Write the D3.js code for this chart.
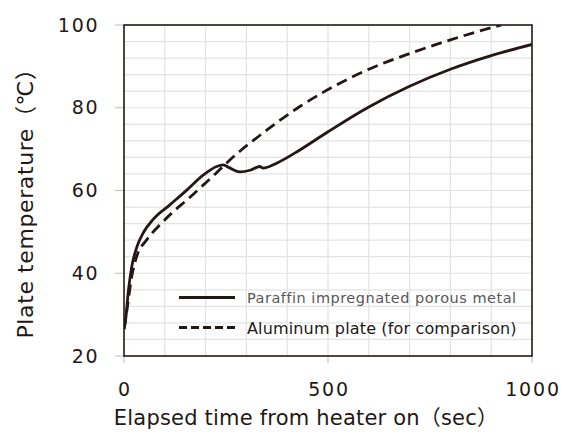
<!DOCTYPE html>
<html>
<head>
<meta charset="utf-8">
<script src="https://cdn.jsdelivr.net/npm/d3@7"></script>
<style>
  body { margin: 0; background: #fff; }
  svg text { font-family: "DejaVu Sans", "Noto Sans CJK JP", sans-serif; }
</style>
</head>
<body>
<svg id="chart" width="571" height="448"></svg>
<script>
// paraffin impregnated porous metal (solid)
var paraffinTime = [0, 3, 11, 19, 31, 48, 72, 113, 154, 194, 227, 243, 260, 284, 309, 333, 341, 374, 431, 500, 600, 700, 800, 900, 1000];
var paraffinTemp = [26.5, 28, 36, 41.6, 46.2, 49.9, 53.1, 56.6, 60.1, 63.7, 65.8, 66.2, 65.4, 64.5, 64.9, 65.8, 65.4, 66.6, 69.8, 74.2, 80.2, 85.2, 89.3, 92.6, 95.3];

// aluminum plate (dashed)
var aluminumTime = [0, 7, 19, 31, 55, 84, 121, 154, 194, 227, 251, 284, 317, 358, 431, 500, 600, 700, 800, 866, 925];
var aluminumTemp = [26.5, 31, 39.2, 44, 48, 51.3, 54.9, 57.7, 61.3, 64.3, 66.6, 69.5, 72.1, 75.2, 80.3, 84.4, 89.3, 93.1, 96.4, 98.4, 100];

var xTicks = [0, 500, 1000];
var yTicks = [20, 40, 60, 80, 100];
var legendLabels = ["Paraffin impregnated porous metal", "Aluminum plate (for comparison)"];

var ink = "#231815";
var plotLeft = 124, plotRight = 532, plotTop = 25, plotBottom = 356;

var svg = d3.select("#chart");

var x = d3.scaleLinear().domain([0, 1000]).range([plotLeft, plotRight]);
var y = d3.scaleLinear().domain([20, 100]).range([plotBottom, plotTop]);

// grid: every 100 sec, every 4 degrees
var grid = svg.append("g").attr("class", "grid");
grid.selectAll("line.v")
    .data(d3.range(100, 1000, 100))
    .enter().append("line")
    .attr("x1", function(d) { return x(d); })
    .attr("x2", function(d) { return x(d); })
    .attr("y1", plotTop).attr("y2", plotBottom)
    .attr("stroke", "#e3e3e3").attr("stroke-width", 1.2);
grid.selectAll("line.h")
    .data(d3.range(24, 100, 4))
    .enter().append("line")
    .attr("y1", function(d) { return y(d); })
    .attr("y2", function(d) { return y(d); })
    .attr("x1", plotLeft).attr("x2", plotRight)
    .attr("stroke", "#e3e3e3").attr("stroke-width", 1.2);

// tick marks
svg.append("g").selectAll("line")
    .data(yTicks)
    .enter().append("line")
    .attr("x1", plotLeft - 9).attr("x2", plotLeft)
    .attr("y1", function(d) { return y(d); })
    .attr("y2", function(d) { return y(d); })
    .attr("stroke", "#bdbdbd").attr("stroke-width", 1);
svg.append("g").selectAll("line")
    .data(xTicks)
    .enter().append("line")
    .attr("x1", function(d) { return x(d); })
    .attr("x2", function(d) { return x(d); })
    .attr("y1", plotBottom).attr("y2", plotBottom + 7)
    .attr("stroke", "#bdbdbd").attr("stroke-width", 1);

// tick labels (wide spacing like the original face)
svg.append("g").selectAll("text")
    .data(yTicks)
    .enter().append("text")
    .attr("x", 99.5)
    .attr("y", function(d) { return y(d) + 6.5; })
    .attr("text-anchor", "end")
    .attr("font-size", 19)
    .attr("letter-spacing", 1.8)
    .attr("fill", ink)
    .text(function(d) { return d; });
svg.append("g").selectAll("text")
    .data(xTicks)
    .enter().append("text")
    .attr("x", function(d) { return x(d) + 1; })
    .attr("y", 396)
    .attr("text-anchor", "middle")
    .attr("font-size", 19)
    .attr("letter-spacing", 1.8)
    .attr("fill", ink)
    .text(function(d) { return d; });

// clip the series to the frame
svg.append("clipPath").attr("id", "plot")
    .append("rect")
    .attr("x", plotLeft).attr("y", plotTop)
    .attr("width", plotRight - plotLeft).attr("height", plotBottom - plotTop);

var line = d3.line()
    .x(function(d) { return x(d[0]); })
    .y(function(d) { return y(d[1]); })
    .curve(d3.curveMonotoneX);

var series = [
    { time: paraffinTime, temp: paraffinTemp, dash: null },
    { time: aluminumTime, temp: aluminumTemp, dash: "11,6" }
];

svg.append("g").attr("clip-path", "url(#plot)")
    .selectAll("path")
    .data(series)
    .enter().append("path")
    .attr("d", function(s) { return line(d3.zip(s.time, s.temp)); })
    .attr("fill", "none")
    .attr("stroke", ink)
    .attr("stroke-width", 2.8)
    .attr("stroke-dasharray", function(s) { return s.dash; });

// frame
svg.append("rect")
    .attr("x", plotLeft).attr("y", plotTop)
    .attr("width", plotRight - plotLeft).attr("height", plotBottom - plotTop)
    .attr("fill", "none").attr("stroke", ink).attr("stroke-width", 1.6);

// legend
var legend = svg.append("g");
legend.append("line")
    .attr("x1", 179).attr("x2", 235).attr("y1", 297.5).attr("y2", 297.5)
    .attr("stroke", ink).attr("stroke-width", 2.8);
legend.append("line")
    .attr("x1", 179).attr("x2", 235).attr("y1", 327.5).attr("y2", 327.5)
    .attr("stroke", ink).attr("stroke-width", 2.8)
    .attr("stroke-dasharray", "8,4");
legend.append("text")
    .attr("x", 247).attr("y", 303)
    .attr("font-size", 14.5)
    .attr("letter-spacing", 0.5)
    .attr("fill", "#595757")
    .text(legendLabels[0]);
legend.append("text")
    .attr("x", 247).attr("y", 333.5)
    .attr("font-size", 16)
    .attr("letter-spacing", 0.15)
    .attr("fill", ink)
    .text(legendLabels[1]);

// axis titles
svg.append("text")
    .attr("x", 306).attr("y", 425)
    .attr("text-anchor", "middle")
    .attr("font-size", 21)
    .attr("letter-spacing", 0.2)
    .attr("fill", ink)
    .text("Elapsed time from heater on（sec）");
svg.append("text")
    .attr("transform", "translate(33,198) rotate(-90)")
    .attr("text-anchor", "middle")
    .attr("font-size", 22)
    .attr("letter-spacing", 0.6)
    .attr("fill", ink)
    .text("Plate temperature（℃）");
</script>
</body>
</html>
